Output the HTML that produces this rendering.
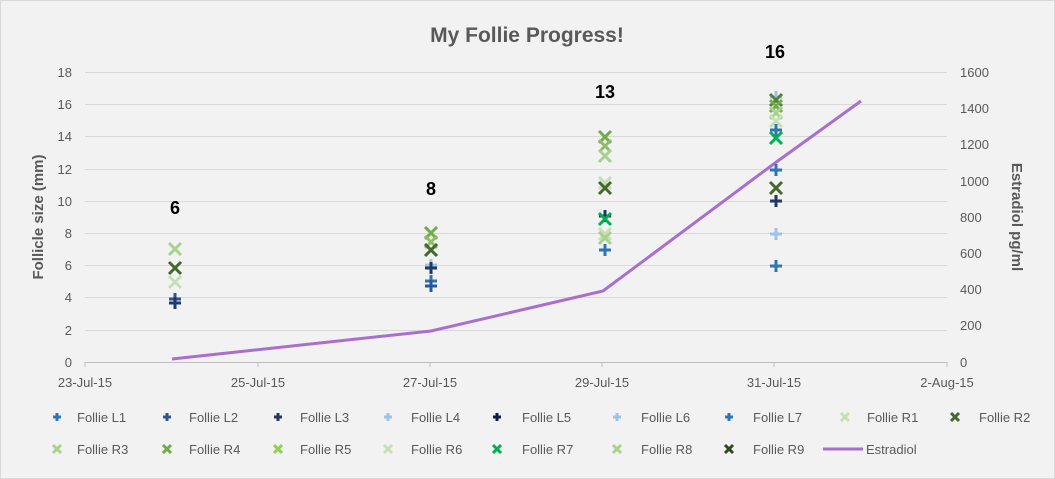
<!DOCTYPE html>
<html><head><meta charset="utf-8"><style>
html,body{margin:0;padding:0;background:#f2f2f2;}
svg{display:block;font-family:"Liberation Sans",sans-serif;}
</style></head><body>
<svg width="1055" height="479" viewBox="0 0 1055 479" xmlns="http://www.w3.org/2000/svg">
<defs>
<path id="p" d="M-6,0H6M0,-6V6" stroke-width="3"/>
<path id="x" d="M-6,-6L6,6M6,-6L-6,6" stroke-width="3"/>
<path id="ps" d="M-4,0H4M0,-4V4" stroke-width="3"/>
<path id="xs" d="M-4,-4L4,4M4,-4L-4,4" stroke-width="3"/>
</defs>
<rect x="0.5" y="0.5" width="1054" height="478" fill="#f2f2f2" stroke="#d9d9d9"/>
<text x="527" y="42" text-anchor="middle" font-size="21" font-weight="bold" fill="#595959">My Follie Progress!</text>
<g stroke="#d9d9d9" stroke-width="1">
<line x1="85" y1="72.5" x2="947" y2="72.5"/><line x1="85" y1="104.5" x2="947" y2="104.5"/><line x1="85" y1="136.5" x2="947" y2="136.5"/><line x1="85" y1="169.5" x2="947" y2="169.5"/><line x1="85" y1="201.5" x2="947" y2="201.5"/><line x1="85" y1="233.5" x2="947" y2="233.5"/><line x1="85" y1="265.5" x2="947" y2="265.5"/><line x1="85" y1="297.5" x2="947" y2="297.5"/><line x1="85" y1="330.5" x2="947" y2="330.5"/>
<line x1="85" y1="362.5" x2="947" y2="362.5" stroke="#bfbfbf"/>
<line x1="85" y1="362" x2="85" y2="367" stroke="#bfbfbf"/><line x1="258" y1="362" x2="258" y2="367" stroke="#bfbfbf"/><line x1="430" y1="362" x2="430" y2="367" stroke="#bfbfbf"/><line x1="602" y1="362" x2="602" y2="367" stroke="#bfbfbf"/><line x1="774" y1="362" x2="774" y2="367" stroke="#bfbfbf"/><line x1="947" y1="362" x2="947" y2="367" stroke="#bfbfbf"/>
</g>
<g font-size="13" fill="#595959" text-anchor="end">
<text x="72" y="77">18</text><text x="72" y="109">16</text><text x="72" y="141">14</text><text x="72" y="174">12</text><text x="72" y="206">10</text><text x="72" y="238">8</text><text x="72" y="270">6</text><text x="72" y="302">4</text><text x="72" y="335">2</text><text x="72" y="367">0</text>
</g>
<g font-size="13" fill="#595959" text-anchor="start">
<text x="960" y="77">1600</text><text x="960" y="113">1400</text><text x="960" y="149">1200</text><text x="960" y="186">1000</text><text x="960" y="222">800</text><text x="960" y="258">600</text><text x="960" y="294">400</text><text x="960" y="330">200</text><text x="960" y="367">0</text>
</g>
<g font-size="13" fill="#595959" text-anchor="middle">
<text x="85" y="387">23-Jul-15</text><text x="258" y="387">25-Jul-15</text><text x="430" y="387">27-Jul-15</text><text x="602" y="387">29-Jul-15</text><text x="774" y="387">31-Jul-15</text><text x="947" y="387">2-Aug-15</text>
</g>
<text transform="translate(43,217) rotate(-90)" text-anchor="middle" font-size="15" font-weight="bold" fill="#595959">Follicle size (mm)</text>
<text transform="translate(1012,217) rotate(90)" text-anchor="middle" font-size="15" font-weight="bold" fill="#595959">Estradiol pg/ml</text>
<g font-size="18" font-weight="bold" fill="#000" text-anchor="middle">
<text x="175" y="214">6</text><text x="431" y="195">8</text><text x="605" y="98">13</text><text x="775" y="58">16</text>
</g>
<polyline points="172,359 431,331 603,291 775,163 861,101" fill="none" stroke="#a86fcf" stroke-width="3"/>
<!-- 24 Jul -->
<g fill="none">
<use href="#x" x="175" y="249" stroke="#a9d18e"/>
<use href="#x" x="175" y="282" stroke="#c5e0b4"/>
<use href="#x" x="175" y="268" stroke="#43682b"/>
<use href="#p" x="175" y="299" stroke="#2e5597"/>
<use href="#p" x="175" y="303" stroke="#1f3864"/>
<!-- 27 Jul -->
<use href="#x" x="431" y="233" stroke="#70ad47"/>
<use href="#x" x="431" y="242" stroke="#8fbc6a"/>
<use href="#x" x="431" y="250" stroke="#43682b"/>
<use href="#p" x="431" y="265" stroke="#9dc3e6"/>
<use href="#p" x="431" y="268" stroke="#1f3864"/>
<use href="#p" x="431" y="281" stroke="#2e75b6"/>
<use href="#p" x="431" y="286" stroke="#2e5597"/>
<!-- 29 Jul -->
<use href="#x" x="605" y="137" stroke="#70ad47"/>
<use href="#x" x="605" y="146" stroke="#8fbc6a"/>
<use href="#x" x="605" y="156" stroke="#a9d18e"/>
<use href="#x" x="605" y="183" stroke="#c5e0b4"/>
<use href="#x" x="605" y="188" stroke="#43682b"/>
<use href="#p" x="605" y="216" stroke="#1f3864"/>
<use href="#x" x="605" y="219" stroke="#00b050"/>
<use href="#x" x="605" y="234" stroke="#c5e0b4"/>
<use href="#x" x="605" y="238" stroke="#a9d18e"/>
<use href="#p" x="605" y="250" stroke="#2e75b6"/>
<!-- 31 Jul -->
<use href="#p" x="776" y="97" stroke="#9dc3e6"/>
<use href="#x" x="776" y="100" stroke="#548235"/>
<use href="#x" x="776" y="106" stroke="#70ad47"/>
<use href="#x" x="776" y="113" stroke="#a9d18e"/>
<use href="#x" x="776" y="121" stroke="#c5e0b4"/>
<use href="#p" x="776" y="130" stroke="#2e75b6"/>
<use href="#x" x="776" y="138" stroke="#00b050"/>
<use href="#p" x="776" y="170" stroke="#2e75b6"/>
<use href="#x" x="776" y="188" stroke="#43682b"/>
<use href="#p" x="776" y="201" stroke="#1f3864"/>
<use href="#p" x="776" y="234" stroke="#9dc3e6"/>
<use href="#p" x="776" y="266" stroke="#2e75b6"/>
</g>
<!-- Legend -->
<g fill="none">
<use href="#ps" x="57" y="417" stroke="#2e75b6"/>
<use href="#ps" x="167" y="417" stroke="#2e5597"/>
<use href="#ps" x="278" y="417" stroke="#1f3864"/>
<use href="#ps" x="388" y="417" stroke="#9dc3e6"/>
<use href="#ps" x="497" y="417" stroke="#0b1f4a"/>
<use href="#ps" x="617" y="417" stroke="#9dc3e6"/>
<use href="#ps" x="729" y="417" stroke="#2e75b6"/>
<use href="#xs" x="845" y="417" stroke="#c5e0b4"/>
<use href="#xs" x="955" y="417" stroke="#43682b"/>
<use href="#xs" x="57" y="449" stroke="#a9d18e"/>
<use href="#xs" x="167" y="449" stroke="#70ad47"/>
<use href="#xs" x="278" y="449" stroke="#92d050"/>
<use href="#xs" x="388" y="449" stroke="#c5e0b4"/>
<use href="#xs" x="497" y="449" stroke="#00b050"/>
<use href="#xs" x="617" y="449" stroke="#a9d18e"/>
<use href="#xs" x="729" y="449" stroke="#2d4a1c"/>
<line x1="823" y1="449" x2="863" y2="449" stroke="#a86fcf" stroke-width="3"/>
</g>
<g font-size="13" fill="#595959">
<text x="77" y="422">Follie L1</text><text x="189" y="422">Follie L2</text><text x="300" y="422">Follie L3</text><text x="411" y="422">Follie L4</text><text x="522" y="422">Follie L5</text><text x="641" y="422">Follie L6</text><text x="753" y="422">Follie L7</text><text x="867" y="422">Follie R1</text><text x="979" y="422">Follie R2</text>
<text x="77" y="454">Follie R3</text><text x="189" y="454">Follie R4</text><text x="300" y="454">Follie R5</text><text x="411" y="454">Follie R6</text><text x="522" y="454">Follie R7</text><text x="641" y="454">Follie R8</text><text x="753" y="454">Follie R9</text><text x="866" y="454">Estradiol</text>
</g>
</svg>
</body></html>
